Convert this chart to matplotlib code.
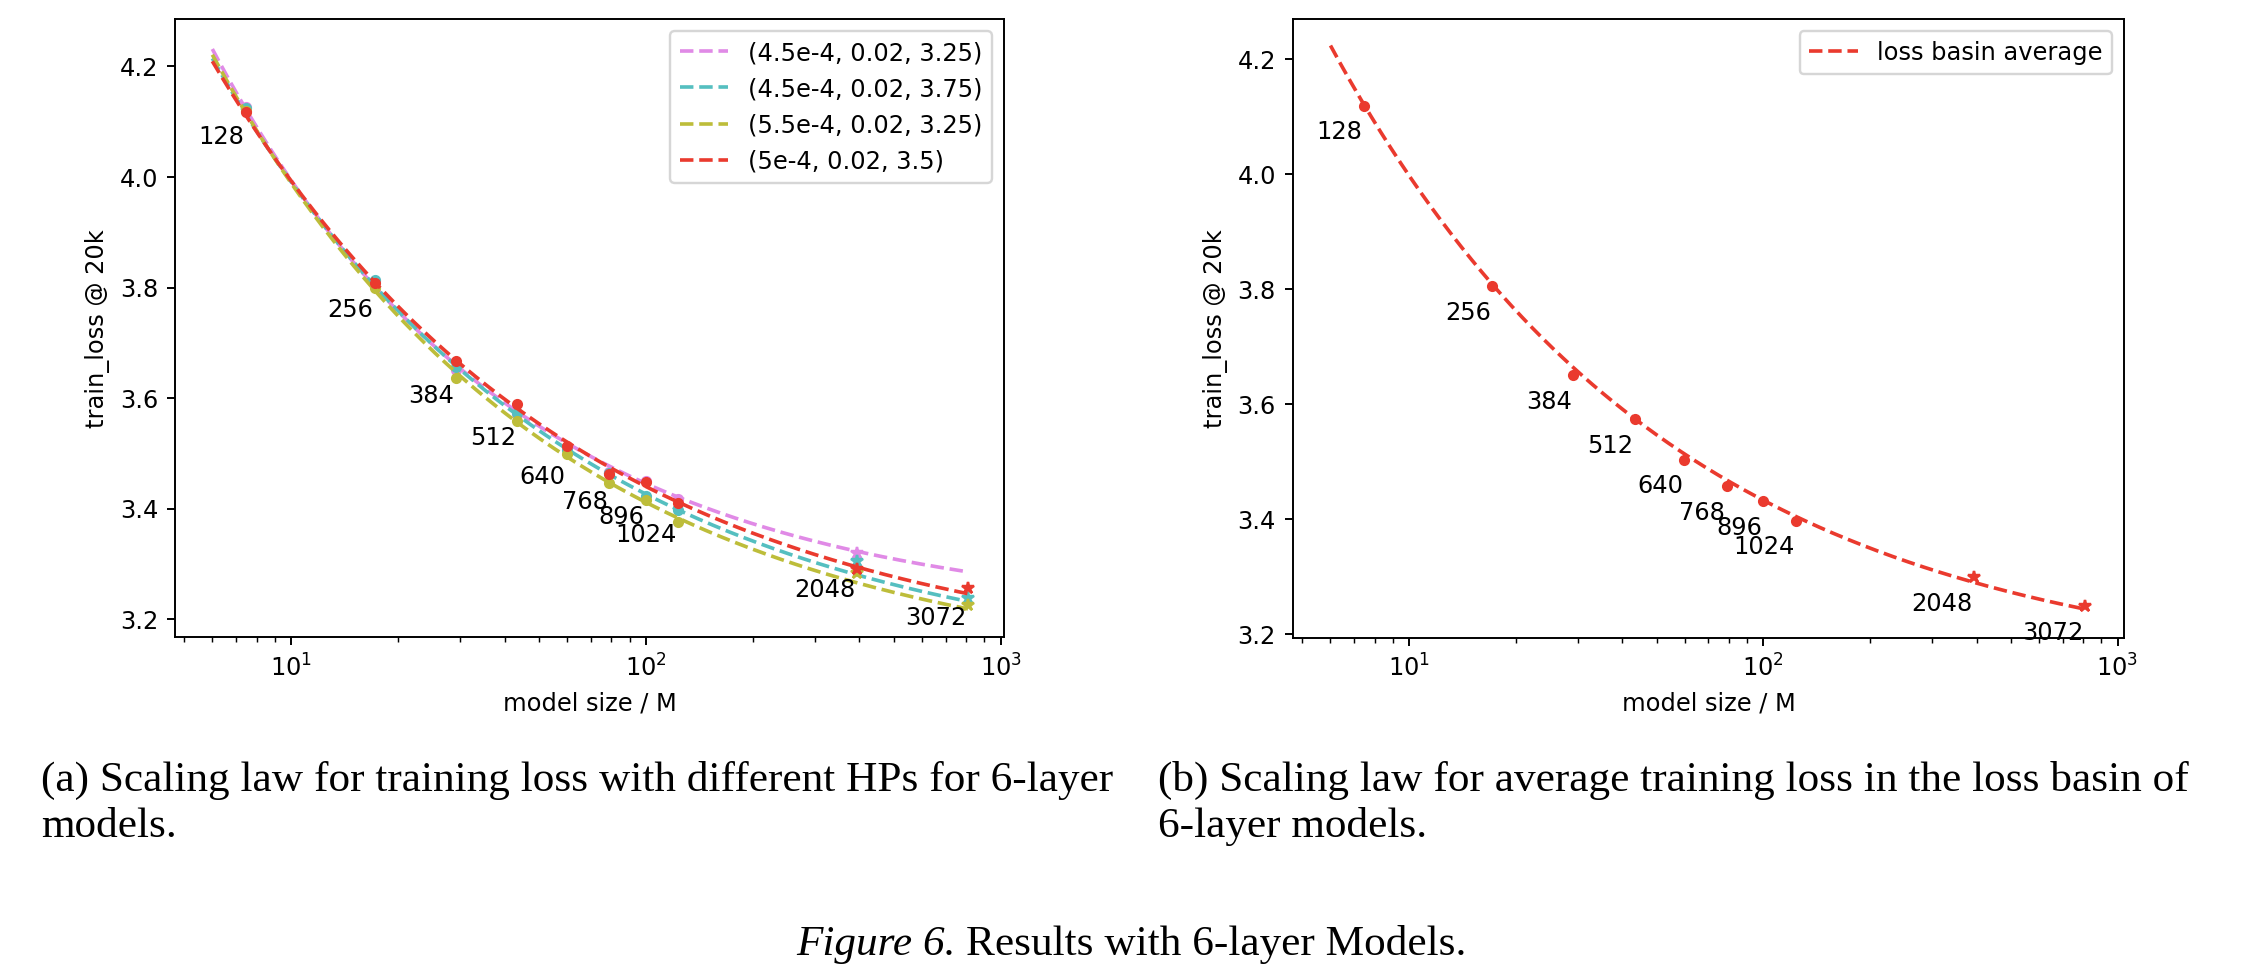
import numpy as np
import matplotlib
matplotlib.use("Agg")
import matplotlib.pyplot as plt

# ---------------- data ----------------
hidden_labels = ["128", "256", "384", "512", "640", "768", "896", "1024", "2048", "3072"]
model_size_M = [7.45, 17.2, 29.1, 43.4, 59.9, 78.9, 100.0, 123.6, 393.0, 809.0]
n_circle = 8  # first 8 sizes drawn as circles, the rest as stars

hp_names = ["(4.5e-4, 0.02, 3.25)", "(4.5e-4, 0.02, 3.75)",
            "(5.5e-4, 0.02, 3.25)", "(5e-4, 0.02, 3.5)"]
loss_hp1 = [4.127, 3.812, 3.651, 3.571, 3.510, 3.466, 3.450, 3.418, 3.319, None]
loss_hp2 = [4.125, 3.813, 3.657, 3.573, 3.506, 3.465, 3.423, 3.397, 3.305, 3.238]
loss_hp3 = [4.120, 3.800, 3.636, 3.559, 3.499, 3.446, 3.416, 3.375, 3.283, 3.225]
loss_hp4 = [4.117, 3.808, 3.667, 3.590, 3.514, 3.462, 3.448, 3.410, 3.291, 3.256]
loss_avg = [4.119, 3.805, 3.651, 3.574, 3.504, 3.458, 3.432, 3.398, 3.300, 3.249]

# fitted scaling laws  L(N) = E + A * N^(-alpha)
fit_hp1 = (3.2025, 2.580, 0.513)
fit_hp2 = (3.103, 2.441, 0.439)
fit_hp3 = (3.096, 2.529, 0.452)
fit_hp4 = (3.113, 2.369, 0.430)
fit_avg = (3.123, 2.465, 0.450)
fit_x_min = 6.0

colors = ["#E08AE6", "#55BFC0", "#BDBD3A", "#EA3A2E"]

# ---------------- figure ----------------
DPI = 174.2
W, H = 2262, 974
fig = plt.figure(figsize=((W + 0.3) / DPI, (H + 0.3) / DPI), dpi=DPI)


def axrect(l, t, r, b):
    return [l / W, 1 - b / H, (r - l) / W, (b - t) / H]


axL = fig.add_axes(axrect(175, 19.3, 1003.7, 637.3))
axR = fig.add_axes(axrect(1292.7, 19.2, 2124, 637.7))

xf = np.geomspace(fit_x_min, max(model_size_M), 300)


def draw_series(ax, ys, color, fit, label):
    xc = [x for i, (x, y) in enumerate(zip(model_size_M, ys)) if y is not None and i < n_circle]
    yc = [y for i, y in enumerate(ys) if y is not None and i < n_circle]
    xs = [x for i, (x, y) in enumerate(zip(model_size_M, ys)) if y is not None and i >= n_circle]
    ys_ = [y for i, y in enumerate(ys) if y is not None and i >= n_circle]
    ax.plot(xc, yc, linestyle="none", marker="o", ms=3.6, color=color)
    ax.plot(xs, ys_, linestyle="none", marker="*", ms=5.0, color=color)
    E, A, a = fit
    ax.plot(xf, E + A * xf ** (-a), "--", color=color, lw=1.5, label=label)


series = [loss_hp1, loss_hp2, loss_hp3, loss_hp4]
fits = [fit_hp1, fit_hp2, fit_hp3, fit_hp4]
for ys, c, f, n in zip(series, colors, fits, hp_names):
    draw_series(axL, ys, c, f, n)
draw_series(axR, loss_avg, colors[3], fit_avg, "loss basin average")

for ax in (axL, axR):
    ax.set_xscale("log")
    for x, y, t in zip(model_size_M, loss_avg, hidden_labels):
        ax.text(x * 0.99, y - 0.046, t, ha="right", va="center", fontsize=10)
    ax.set_xlabel("model size / M")
    ax.set_ylabel("train_loss @ 20k")
    ax.legend(loc="upper right")

axL.set_xlim(10 ** 0.673, 10 ** 3.009)
axL.set_ylim(3.1674, 4.2858)
axR.set_xlim(10 ** 0.672, 10 ** 3.019)
axR.set_ylim(3.1946, 4.2699)
axL.set_yticks([3.2, 3.4, 3.6, 3.8, 4.0, 4.2])
axR.set_yticks([3.2, 3.4, 3.6, 3.8, 4.0, 4.2])

# ---------------- captions ----------------
serif = "Liberation Serif"
cfs = 17.9
fig.text(40.7 / W, 1 - 791 / H, "(a) Scaling law for training loss with different HPs for 6-layer",
         family=serif, fontsize=cfs, va="baseline", ha="left")
fig.text(40.7 / W, 1 - 837 / H, "models.", family=serif, fontsize=cfs, va="baseline", ha="left")
fig.text(1158 / W, 1 - 791 / H, "(b) Scaling law for average training loss in the loss basin of",
         family=serif, fontsize=cfs, va="baseline", ha="left")
fig.text(1158 / W, 1 - 837 / H, "6-layer models.", family=serif, fontsize=cfs, va="baseline", ha="left")

fig.canvas.draw()
r = fig.canvas.get_renderer()
t1 = fig.text(0, 1 - 955 / H, "Figure 6.", family=serif, style="italic", fontsize=cfs, va="baseline")
t2 = fig.text(0, 1 - 955 / H, "Results with 6-layer Models.", family=serif, fontsize=cfs, va="baseline")
w1 = t1.get_window_extent(r).width
w2 = t2.get_window_extent(r).width
sp = 0.25 * cfs / 72 * DPI
x0 = 1131 - (w1 + sp + w2) / 2
t1.set_x(x0 / W)
t2.set_x((x0 + w1 + sp) / W)

fig.savefig("out.png", dpi=DPI)
